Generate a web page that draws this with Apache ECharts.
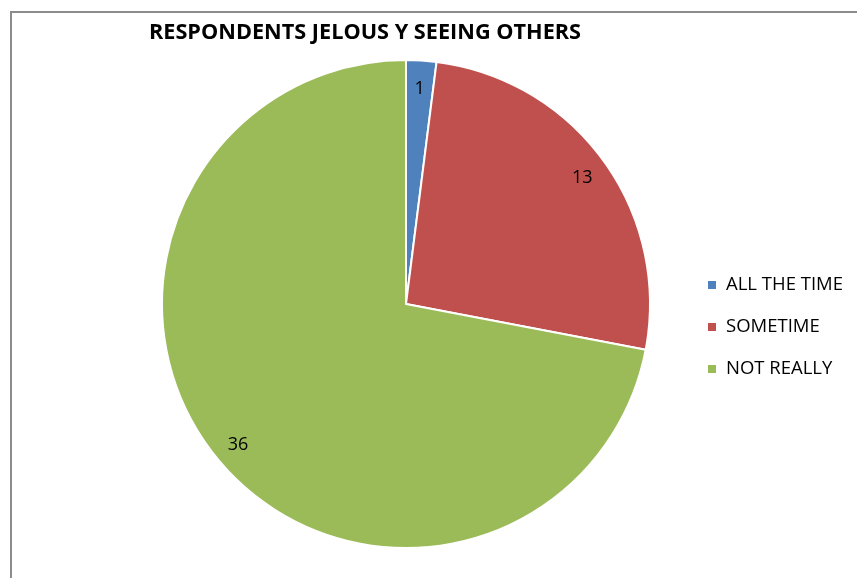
<!DOCTYPE html>
<html>
<head>
<meta charset="utf-8">
<script src="https://cdn.jsdelivr.net/npm/echarts@6/dist/echarts.min.js"></script>
<style>
  html, body { margin: 0; padding: 0; background: #fff; }
  #chart { width: 857px; height: 578px; }
</style>
</head>
<body>
<div id="chart"></div>
<script>
// Survey responses: how often respondents feel jealous seeing others
const categories = ['ALL THE TIME', 'SOMETIME', 'NOT REALLY'];
const counts = [1, 13, 36];
const colors = ['#4F81BD', '#C0504D', '#9BBB59'];
const titleText = 'RESPONDENTS JELOUS Y SEEING OTHERS';

const slices = categories.map((name, i) => ({
  name,
  value: counts[i],
  itemStyle: { color: colors[i] }
}));

const center = [406, 304];
const font = '"Open Sans", "Liberation Sans", sans-serif';

const chart = echarts.init(document.getElementById('chart'), null, { renderer: 'canvas' });
chart.setOption({
  animation: false,
  backgroundColor: '#fff',
  graphic: [{
    type: 'rect',
    shape: { x: 11, y: 12, width: 900, height: 600 },
    style: { fill: 'none', stroke: '#8c8c8c', lineWidth: 2 },
    silent: true,
    z: 100
  }],
  title: {
    text: titleText,
    left: 365,
    top: 20,
    padding: 0,
    textAlign: 'center',
    textStyle: { fontFamily: font, fontWeight: 'bold', fontSize: 21.7, lineHeight: 26, color: '#000' }
  },
  legend: {
    orient: 'vertical',
    left: 706,
    top: 274,
    padding: 0,
    itemWidth: 10,
    itemHeight: 10,
    itemGap: 20,
    icon: 'rect',
    selectedMode: false,
    textStyle: { fontFamily: font, fontSize: 18.5, lineHeight: 22, color: '#000', padding: [0, 0, 0, 4] },
    data: categories
  },
  series: [
    {
      type: 'pie',
      center,
      radius: [0, 244],
      startAngle: 90,
      clockwise: true,
      silent: true,
      label: { show: false },
      labelLine: { show: false },
      itemStyle: { borderColor: '#fff', borderWidth: 2 },
      data: slices
    },
    {
      // transparent ring used only to place the value labels near the rim
      type: 'pie',
      center,
      radius: [186, 244],
      startAngle: 90,
      clockwise: true,
      silent: true,
      itemStyle: { color: 'rgba(0,0,0,0)', borderWidth: 0 },
      label: {
        show: true,
        position: 'inside',
        formatter: '{c}',
        fontFamily: font,
        fontSize: 18,
        color: '#000',
        offset: [0, 2]
      },
      labelLine: { show: false },
      data: categories.map((name, i) => ({ name, value: counts[i] })),
      z: 3
    }
  ]
});
</script>
</body>
</html>
